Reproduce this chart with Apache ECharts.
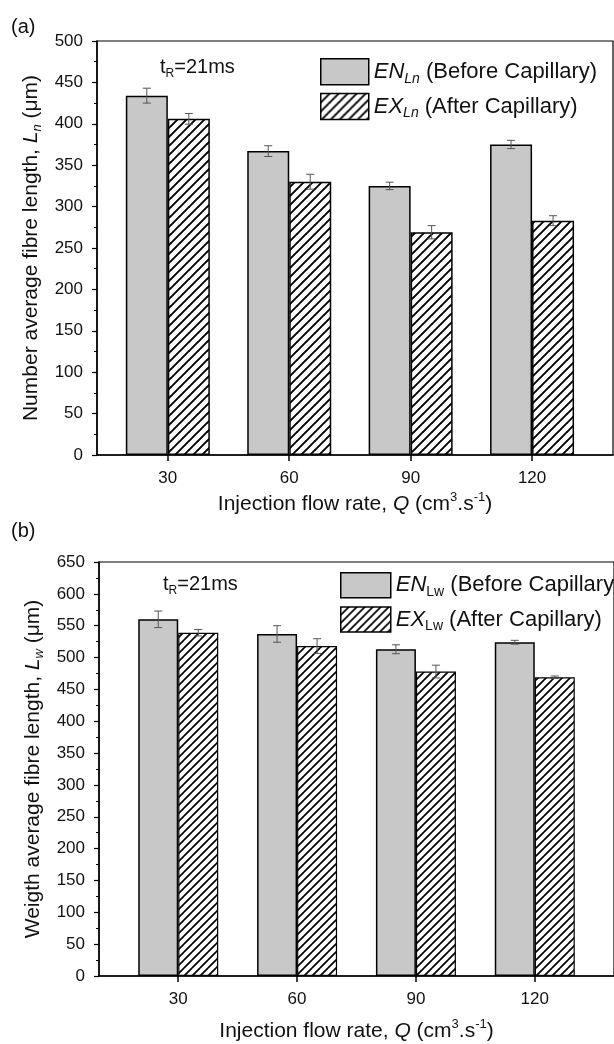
<!DOCTYPE html>
<html>
<head>
<meta charset="utf-8">
<script src="https://cdn.jsdelivr.net/npm/echarts@6/dist/echarts.min.js"></script>
<style>
html,body{margin:0;padding:0;background:#fff;}
#c{width:614px;height:1044px;}
</style>
</head>
<body>
<div id="c"></div>
<script>
// ---- data ----
const qValues = [30, 60, 90, 120];
const lnBefore = [434, 367, 325, 375];
const lnBeforeErr = [9, 6.5, 4.5, 5];
const lnAfter = [406, 330, 269, 283];
const lnAfterErr = [6.5, 9, 8, 6];
const lwBefore = [560, 537, 513, 524];
const lwBeforeErr = [13, 13, 7, 3];
const lwAfter = [539, 518, 478, 469];
const lwAfterErr = [5, 11.5, 10, 2];
const yTicksA = { min: 0, max: 500, interval: 50 };
const yTicksB = { min: 0, max: 650, interval: 50 };

// ---- styles ----
const FONT = 'Liberation Sans, Arial, sans-serif';
const BAR_A = 42, BAR_B = 40;
const TXT = '#111';

function hatch(size, lw) {
  const c = document.createElement('canvas');
  c.width = c.height = size;
  const g = c.getContext('2d');
  g.fillStyle = '#fff'; g.fillRect(0, 0, size, size);
  g.strokeStyle = '#000'; g.lineWidth = lw; g.lineCap = 'square';
  g.beginPath();
  for (const o of [-size, 0, size]) { g.moveTo(o, size); g.lineTo(o + size, 0); }
  g.stroke();
  return c;
}
const hatchA = { image: hatch(9, 1.9), repeat: 'repeat' };
const hatchB = { image: hatch(8, 1.7), repeat: 'repeat' };
const GRAY = '#c8c8c8';

function mkRich(fs) {
  const lh = Math.round(fs * 1.25);
  const ss = Math.round(fs * 0.62);
  return {
    it: { fontFamily: FONT, fontSize: fs, fontStyle: 'italic', fontWeight: 'normal', color: TXT, lineHeight: lh },
    n: { fontFamily: FONT, fontSize: fs, fontWeight: 'normal', color: TXT, lineHeight: lh },
    subi: { fontFamily: FONT, fontSize: ss, fontStyle: 'italic', fontWeight: 'normal', color: TXT, lineHeight: ss, verticalAlign: 'bottom' },
    sub: { fontFamily: FONT, fontSize: ss, fontWeight: 'normal', color: TXT, lineHeight: ss, verticalAlign: 'bottom' },
    sup: { fontFamily: FONT, fontSize: ss, fontWeight: 'normal', color: TXT, lineHeight: ss, verticalAlign: 'top' }
  };
}
const richT = mkRich(21);
const richL = mkRich(22);
const richR = mkRich(20);

function errRender(offset) {
  return function (params, api) {
    const x = api.value(0), lo = api.value(1), hi = api.value(2);
    const p1 = api.coord([x, hi]), p2 = api.coord([x, lo]);
    const cx = p1[0] + offset, cap = 4;
    const st = { stroke: '#555', lineWidth: 1 };
    return { type: 'group', children: [
      { type: 'line', shape: { x1: cx, y1: p1[1], x2: cx, y2: p2[1] }, style: st },
      { type: 'line', shape: { x1: cx - cap, y1: p1[1], x2: cx + cap, y2: p1[1] }, style: st },
      { type: 'line', shape: { x1: cx - cap, y1: p2[1], x2: cx + cap, y2: p2[1] }, style: st }
    ]};
  };
}
const pairs = (vals) => qValues.map((q, i) => [q, vals[i]]);
const errs = (vals, e) => qValues.map((q, i) => [q, vals[i] - e[i], vals[i] + e[i]]);

function xAxis(gi, min, gap) {
  return {
    type: 'value', gridIndex: gi, min: min, max: 140,
    name: '{n|Injection flow rate, }{it|Q}{n| (cm}{sup|3}{n|.s}{sup|-1}{n|)}',
    nameLocation: 'middle', nameGap: gap,
    nameTextStyle: { fontFamily: FONT, fontSize: 21, color: TXT, rich: richT },
    axisLine: { lineStyle: { color: '#000', width: 1.5 } },
    axisTick: { show: true, length: 6, customValues: qValues, lineStyle: { color: '#000', width: 1.5 } },
    axisLabel: { customValues: qValues, fontFamily: FONT, fontSize: 17, color: TXT, margin: 15 },
    splitLine: { show: false }
  };
}
function yAxis(gi, t, name) {
  return {
    type: 'value', gridIndex: gi, min: t.min, max: t.max, interval: t.interval,
    name: name, nameLocation: 'middle', nameGap: 52, nameRotate: 90,
    nameTextStyle: { fontFamily: FONT, fontSize: 21, color: TXT, rich: richT },
    axisLine: { show: true, lineStyle: { color: '#000', width: 1.5 } },
    axisTick: { show: true, length: 5, lineStyle: { color: '#000', width: 1.2 } },
    minorTick: { show: true, splitNumber: 2, length: 3, lineStyle: { color: '#000', width: 1 } },
    axisLabel: { fontFamily: FONT, fontSize: 17, color: TXT, margin: 14 },
    splitLine: { show: false }, minorSplitLine: { show: false }
  };
}

const legendFmt = {
  ENLn: '{it|EN}{subi|Ln}{n| (Before Capillary)}',
  EXLn: '{it|EX}{subi|Ln}{n| (After Capillary)}',
  ENLw: '{it|EN}{sub|Lw}{n| (Before Capillary)}',
  EXLw: '{it|EX}{sub|Lw}{n| (After Capillary)}'
};

const plainTitle = { fontFamily: FONT, fontSize: 20, fontWeight: 'normal', color: TXT };
const option = {
  backgroundColor: '#fff',
  animation: false,
  title: [
    { text: '(a)', left: 6, top: 12, textStyle: plainTitle },
    { text: '(b)', left: 6, top: 516, textStyle: plainTitle },
    { text: '{n|t}{sub|R}{n|=21ms}', left: 155, top: 50, textStyle: { fontFamily: FONT, fontSize: 20, fontWeight: 'normal', color: TXT, rich: richR } },
    { text: '{n|t}{sub|R}{n|=21ms}', left: 158, top: 567, textStyle: { fontFamily: FONT, fontSize: 20, fontWeight: 'normal', color: TXT, rich: richR } }
  ],
  legend: [
    { data: ['ENLn', 'EXLn'], orient: 'vertical', left: 315, top: 53, icon: 'rect',
      itemWidth: 48, itemHeight: 26, itemGap: 7,
      itemStyle: { borderColor: '#000', borderWidth: 1.5 },
      formatter: (n) => legendFmt[n], textStyle: { fontFamily: FONT, fontSize: 22, color: TXT, rich: richL } },
    { data: ['ENLw', 'EXLw'], orient: 'vertical', left: 335, top: 567, icon: 'rect',
      itemWidth: 50, itemHeight: 25, itemGap: 7,
      itemStyle: { borderColor: '#000', borderWidth: 1.5 },
      formatter: (n) => legendFmt[n], textStyle: { fontFamily: FONT, fontSize: 22, color: TXT, rich: richL } }
  ],
  grid: [
    { left: 97, top: 41, right: 1, height: 414, show: true, borderColor: '#000', borderWidth: 1.2, backgroundColor: 'transparent' },
    { left: 99, top: 562, right: 0, height: 414, show: true, borderColor: '#000', borderWidth: 1.2, backgroundColor: 'transparent' }
  ],
  xAxis: [xAxis(0, 12.5, 36), xAxis(1, 10, 42)],
  yAxis: [
    yAxis(0, yTicksA, '{n|Number average fibre length, }{it|L}{subi|n}{n| (μm)}'),
    yAxis(1, yTicksB, '{n|Weigth average fibre length, }{it|L}{subi|w}{n| (μm)}')
  ],
  series: [
    { name: 'ENLn', type: 'bar', xAxisIndex: 0, yAxisIndex: 0, barWidth: BAR_A, barGap: '0%',
      itemStyle: { color: GRAY, borderColor: '#000', borderWidth: 1.5 }, data: pairs(lnBefore) },
    { name: 'EXLn', type: 'bar', xAxisIndex: 0, yAxisIndex: 0, barWidth: BAR_A, barGap: '0%',
      itemStyle: { color: hatchA, borderColor: '#000', borderWidth: 1.5 }, data: pairs(lnAfter) },
    { type: 'custom', xAxisIndex: 0, yAxisIndex: 0, z: 5, renderItem: errRender(-BAR_A / 2),
      encode: { x: 0, y: [1, 2] }, data: errs(lnBefore, lnBeforeErr) },
    { type: 'custom', xAxisIndex: 0, yAxisIndex: 0, z: 5, renderItem: errRender(BAR_A / 2),
      encode: { x: 0, y: [1, 2] }, data: errs(lnAfter, lnAfterErr) },
    { name: 'ENLw', type: 'bar', xAxisIndex: 1, yAxisIndex: 1, barWidth: BAR_B, barGap: '0%',
      itemStyle: { color: GRAY, borderColor: '#000', borderWidth: 1.5 }, data: pairs(lwBefore) },
    { name: 'EXLw', type: 'bar', xAxisIndex: 1, yAxisIndex: 1, barWidth: BAR_B, barGap: '0%',
      itemStyle: { color: hatchB, borderColor: '#000', borderWidth: 1.2 }, data: pairs(lwAfter) },
    { type: 'custom', xAxisIndex: 1, yAxisIndex: 1, z: 5, renderItem: errRender(-BAR_B / 2),
      encode: { x: 0, y: [1, 2] }, data: errs(lwBefore, lwBeforeErr) },
    { type: 'custom', xAxisIndex: 1, yAxisIndex: 1, z: 5, renderItem: errRender(BAR_B / 2),
      encode: { x: 0, y: [1, 2] }, data: errs(lwAfter, lwAfterErr) }
  ]
};
const chart = echarts.init(document.getElementById('c'), null, { renderer: 'canvas' });
chart.setOption(option);
</script>
</body>
</html>
